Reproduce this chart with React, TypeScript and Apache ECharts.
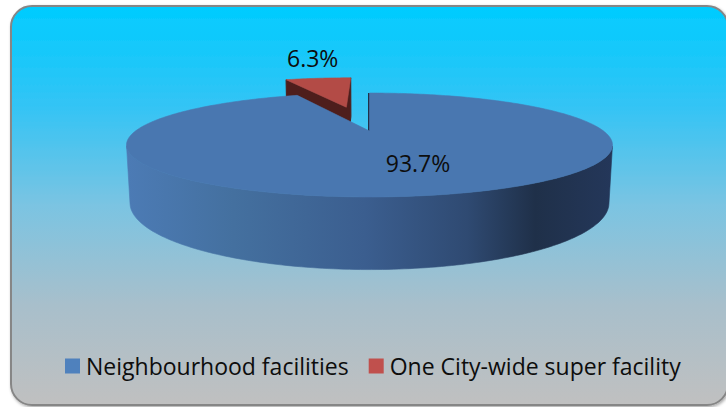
import React, { useEffect, useRef } from "react";
import * as echarts from "echarts";

// ---- data ----
const categories = ["Neighbourhood facilities", "One City-wide super facility"];
const shares = [93.7, 6.3];
const labelTexts = ["93.7%", "6.3%"];

// ---- styles ----
const PALETTE = ["#4F81BD", "#C0504D"];
const TOP_FILL = ["#4977B0", "#B34B46"];
const CUT_FILL = ["#1F3149", "#4E1E1C"];
const EXPLODE = [0, 0.58];
const LABEL_R = [0.5, 1.35];
const LABEL_SHIFT = [
  [22, 5],
  [2, -13],
];
const FONT = "'Open Sans', 'Noto Sans', sans-serif";

const WALL_FILL: any[] = [
  {
    type: "linear",
    x: 127,
    y: 0,
    x2: 613,
    y2: 0,
    global: true,
    colorStops: [
      { offset: 0, color: "#4C7BB5" },
      { offset: 0.22, color: "#44709F" },
      { offset: 0.49, color: "#3B5E8F" },
      { offset: 0.7, color: "#2F4A72" },
      { offset: 0.84, color: "#1F3049" },
      { offset: 1, color: "#24375A" },
    ],
  },
  "#7A2E2B",
];

// ---- camera / projection ----
const CX = 369.5;
const CY = 131;
const K = 851;
const RAD = 0.275;
const HGT = 0.066;
const SN = 0.206;
const CS = Math.sqrt(1 - SN * SN);
const CAM = [0, SN, -CS];

function proj(X: number, Y: number, Z: number): number[] {
  const yc = Y * CS + Z * SN;
  const zc = 1 + Z * CS - Y * SN;
  return [CX + (K * X) / zc, CY - (K * yc) / zc];
}

const total = shares.reduce((a, b) => a + b, 0);

function makeRenderItem(i: number) {
  return (params: any, api: any) => {
    const value = api.value(0);
    let before = 0;
    for (let j = 0; j < i; j++) before += shares[j];
    const a0 = (before / total) * Math.PI * 2;
    const a1 = ((before + value) / total) * Math.PI * 2;
    const mid = (a0 + a1) / 2;
    const e = EXPLODE[i] * RAD;
    const ox = e * Math.sin(mid);
    const oz = e * Math.cos(mid);
    const P = (t: number, y: number) => proj(ox + RAD * Math.sin(t), y, oz + RAD * Math.cos(t));
    const C = (y: number) => proj(ox, y, oz);

    // depth ordering
    const cxw = ox + 0.4 * RAD * Math.sin(mid);
    const czw = oz + 0.4 * RAD * Math.cos(mid);
    const dist = Math.hypot(cxw - CAM[0], -CAM[1], czw - CAM[2]);
    const base = Math.round((3 - dist) * 100) * 10;

    const steps = Math.max(2, Math.ceil((a1 - a0) / (Math.PI / 180)));
    const ts: number[] = [];
    for (let k = 0; k <= steps; k++) ts.push(a0 + ((a1 - a0) * k) / steps);

    const children: any[] = [];

    // outer wall (visible runs)
    let run: number[] = [];
    const flush = () => {
      if (run.length >= 2) {
        const pts: number[][] = [];
        run.forEach((t) => pts.push(P(t, 0)));
        for (let k = run.length - 1; k >= 0; k--) pts.push(P(run[k], -HGT));
        children.push({
          type: "polygon",
          shape: { points: pts },
          style: { fill: WALL_FILL[i], stroke: WALL_FILL[i], lineWidth: 0.6 },
          z2: base,
        });
      }
      run = [];
    };
    for (let k = 0; k < steps; k++) {
      const tm = (ts[k] + ts[k + 1]) / 2;
      const nx = Math.sin(tm);
      const nz = Math.cos(tm);
      const px = ox + RAD * nx;
      const pz = oz + RAD * nz;
      const vis = nx * (CAM[0] - px) + nz * (CAM[2] - pz) > 0;
      if (vis) {
        if (run.length === 0) run.push(ts[k]);
        run.push(ts[k + 1]);
      } else flush();
    }
    flush();

    // cut faces
    const cuts = [
      { t: a0, n: [-Math.cos(a0), Math.sin(a0)] },
      { t: a1, n: [Math.cos(a1), -Math.sin(a1)] },
    ];
    cuts.forEach((c) => {
      const d = c.n[0] * (CAM[0] - ox) + c.n[1] * (CAM[2] - oz);
      if (d > -1e-6) {
        children.push({
          type: "polygon",
          shape: { points: [C(0), P(c.t, 0), P(c.t, -HGT), C(-HGT)] },
          style: { fill: CUT_FILL[i], stroke: CUT_FILL[i], lineWidth: d < 1e-3 ? 3 : 1 },
          z2: base + 1,
        });
      }
    });

    // top face
    const topPts = [C(0)];
    ts.forEach((t) => topPts.push(P(t, 0)));
    children.push({
      type: "polygon",
      shape: { points: topPts },
      style: { fill: TOP_FILL[i], stroke: TOP_FILL[i], lineWidth: 0.6 },
      z2: base + 2,
    });

    // label
    const lr = LABEL_R[i] * RAD;
    const lp = proj(ox + lr * Math.sin(mid), 0, oz + lr * Math.cos(mid));
    children.push({
      type: "text",
      x: lp[0] + LABEL_SHIFT[i][0],
      y: lp[1] + LABEL_SHIFT[i][1],
      style: {
        text: labelTexts[i],
        fill: "#0D0D0D",
        fontSize: 23,
        fontFamily: FONT,
        align: "center",
        verticalAlign: "middle",
      },
      z2: 5000,
    });

    return { type: "group", children };
  };
}

export default function App() {
  const ref = useRef<HTMLDivElement>(null);
  useEffect(() => {
    document.body.style.margin = "0";
    const chart = echarts.init(ref.current!, null, { renderer: "svg" });
    chart.setOption({
      animation: false,
      color: PALETTE,
      tooltip: { show: false },
      graphic: [
        {
          type: "rect",
          z: -1,
          silent: true,
          shape: { x: 11, y: 6, width: 717, height: 399, r: 21 },
          style: {
            fill: new echarts.graphic.LinearGradient(0, 0, 0, 1, [
              { offset: 0, color: "#00CCFF" },
              { offset: 0.25, color: "#33C4F5" },
              { offset: 0.5, color: "#7BC4E2" },
              { offset: 0.75, color: "#A8BFCB" },
              { offset: 1, color: "#C0C0C0" },
            ]),
            stroke: "#868686",
            lineWidth: 2,
            shadowBlur: 3,
            shadowColor: "rgba(0,0,0,0.35)",
            shadowOffsetX: 1,
            shadowOffsetY: 1.5,
          },
        },
      ],
      legend: {
        data: categories,
        left: 65,
        top: 354,
        padding: 0,
        itemWidth: 15,
        itemHeight: 15,
        itemGap: 20,
        icon: "rect",
        selectedMode: false,
        textStyle: {
          fontFamily: FONT,
          fontSize: 23,
          color: "#0D0D0D",
          lineHeight: 24,
          padding: [0, 0, 0, 1],
        },
      },
      series: categories.map((name, i) => ({
        type: "custom",
        name,
        coordinateSystem: "none",
        silent: true,
        itemStyle: { color: PALETTE[i] },
        renderItem: makeRenderItem(i),
        data: [[shares[i]]],
      })),
    });
    return () => chart.dispose();
  }, []);
  return <div ref={ref} style={{ width: 726, height: 407 }} />;
}
